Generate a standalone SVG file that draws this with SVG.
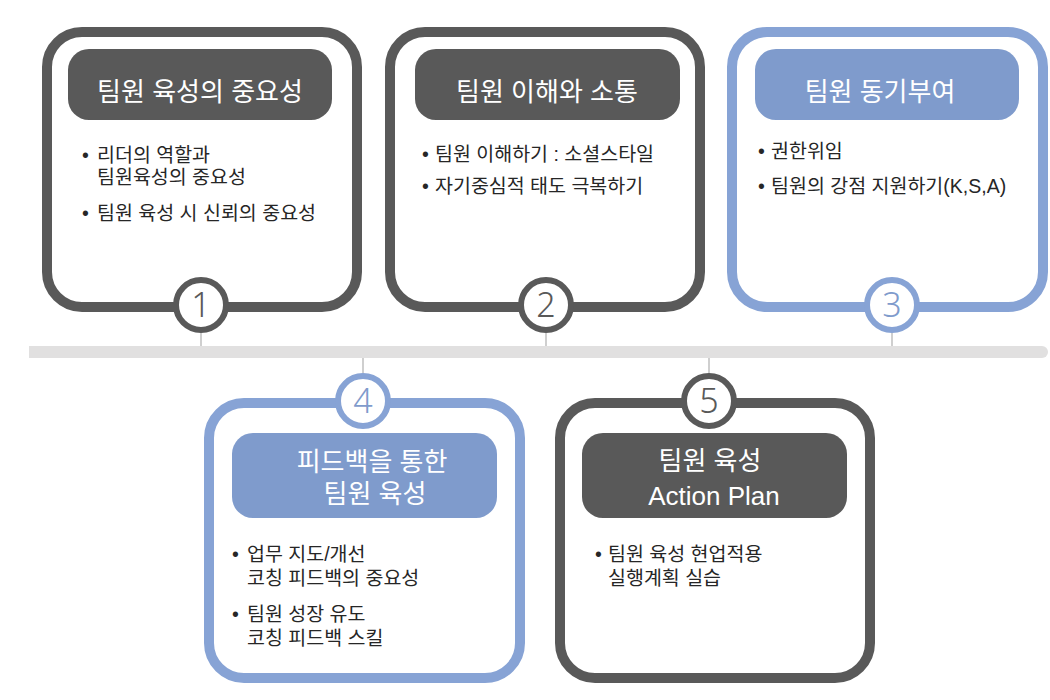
<svg xmlns="http://www.w3.org/2000/svg" width="1050" height="700" viewBox="0 0 1050 700">
<style>
.card{fill:#fff;stroke-width:10}
.dark{stroke:#595959}
.blue{stroke:#87a3d5}
.hd{fill:#595959}
.hb{fill:#7f9bcc}
.title{font-family:"Liberation Sans","Noto Sans CJK KR",sans-serif;font-size:26px;fill:#fff;text-anchor:middle}
.body{font-family:"Liberation Sans","Noto Sans CJK KR",sans-serif;font-size:19.5px;fill:#262626}
.num{font-family:"Noto Sans","Liberation Sans",sans-serif;font-size:34px;font-weight:300;text-anchor:middle}
.ring{fill:#fff;stroke-width:6}
.conn{stroke:#bfbfbf;stroke-width:1.5;fill:none}
</style>
<rect width="1050" height="700" fill="#fff"/>
<g id="timeline">
<path d="M29,346 H1042 A6,6 0 0 1 1042,358 H29 Z" fill="#e1e0e0"/>
</g>
<g id="connectors">
<line class="conn" x1="201" y1="333" x2="201" y2="346"/>
<line class="conn" x1="546" y1="333" x2="546" y2="346"/>
<line class="conn" x1="892" y1="333" x2="892" y2="346"/>
<line class="conn" x1="363" y1="358" x2="363" y2="373"/>
<line class="conn" x1="709" y1="358" x2="709" y2="373"/>
</g>
<g id="node1">
<rect class="card dark" x="47" y="32" width="310" height="275" rx="35"/>
<rect class="hd" x="68" y="49" width="264" height="71" rx="21"/>
<text class="title" x="200" y="101">팀원 육성의 중요성</text>
<text class="body"><tspan x="82" y="162">•</tspan><tspan x="97" y="162">리더의 역할과</tspan><tspan x="97" y="184">팀원육성의 중요성</tspan></text>
<text class="body"><tspan x="82" y="220">•</tspan><tspan x="97" y="220">팀원 육성 시 신뢰의 중요성</tspan></text>
<circle class="ring dark" cx="201" cy="305" r="25"/>
<text class="num" x="201" y="317" fill="#595959">1</text>
</g>
<g id="node2">
<rect class="card dark" x="390" y="32" width="310" height="275" rx="35"/>
<rect class="hd" x="415" y="49" width="265" height="71" rx="21"/>
<text class="title" x="547" y="101">팀원 이해와 소통</text>
<text class="body"><tspan x="422" y="161">•</tspan><tspan x="435" y="161">팀원 이해하기 : 소셜스타일</tspan></text>
<text class="body"><tspan x="422" y="193">•</tspan><tspan x="435" y="193">자기중심적 태도 극복하기</tspan></text>
<circle class="ring dark" cx="546" cy="305" r="25"/>
<text class="num" x="546" y="317" fill="#595959">2</text>
</g>
<g id="node3">
<rect class="card blue" x="732" y="32" width="311" height="275" rx="35"/>
<rect class="hb" x="755" y="49" width="264" height="71" rx="21"/>
<text class="title" x="880" y="101">팀원 동기부여</text>
<text class="body"><tspan x="758" y="158">•</tspan><tspan x="771" y="158">권한위임</tspan></text>
<text class="body"><tspan x="758" y="193">•</tspan><tspan x="771" y="193">팀원의 강점 지원하기(K,S,A)</tspan></text>
<circle class="ring blue" cx="892" cy="305" r="25"/>
<text class="num" x="892" y="317" fill="#7f9bcc">3</text>
</g>
<g id="node4">
<rect class="card blue" x="209" y="403" width="311" height="275" rx="35"/>
<rect class="hb" x="232" y="433" width="265" height="85" rx="21"/>
<text class="title"><tspan x="372" y="471">피드백을 통한</tspan><tspan x="375" y="503">팀원 육성</tspan></text>
<text class="body"><tspan x="232" y="561">•</tspan><tspan x="247" y="561">업무 지도/개선</tspan><tspan x="247" y="585">코칭 피드백의 중요성</tspan></text>
<text class="body"><tspan x="232" y="621">•</tspan><tspan x="247" y="621">팀원 성장 유도</tspan><tspan x="247" y="645">코칭 피드백 스킬</tspan></text>
<circle class="ring blue" cx="363" cy="401" r="25"/>
<text class="num" x="363" y="413" fill="#7f9bcc">4</text>
</g>
<g id="node5">
<rect class="card dark" x="560" y="403" width="310" height="275" rx="35"/>
<rect class="hd" x="582" y="433" width="265" height="85" rx="21"/>
<text class="title"><tspan x="710" y="470">팀원 육성</tspan><tspan x="714" y="505">Action Plan</tspan></text>
<text class="body"><tspan x="595" y="561">•</tspan><tspan x="608" y="561">팀원 육성 현업적용</tspan><tspan x="608" y="585">실행계획 실습</tspan></text>
<circle class="ring dark" cx="709" cy="401" r="25"/>
<text class="num" x="709" y="413" fill="#595959">5</text>
</g>
</svg>
